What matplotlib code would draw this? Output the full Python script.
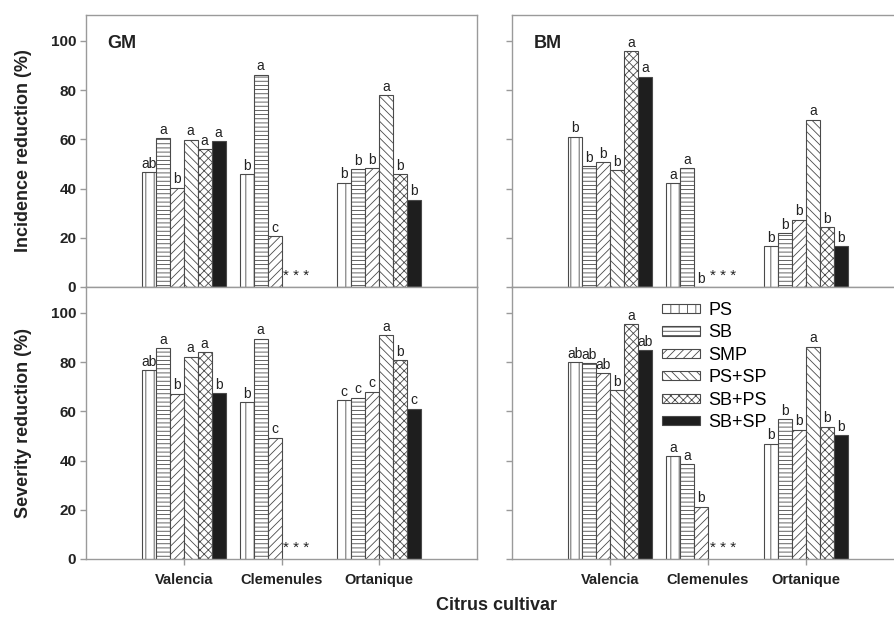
import matplotlib
matplotlib.use('Agg')
import matplotlib.pyplot as plt
from matplotlib.patches import Patch

plt.rcParams['font.family'] = ['Liberation Sans', 'DejaVu Sans']
plt.rcParams['hatch.linewidth'] = 0.6

cultivars = ['Valencia', 'Clemenules', 'Ortanique']
treatments = ['PS', 'SB', 'SMP', 'PS+SP', 'SB+PS', 'SB+SP']
hatches = ['||', '----', '////', '\\\\\\\\', 'xxxx', '']
faces = ['white', 'white', 'white', 'white', 'white', '#1e1e1e']

# one row per cultivar, one value per treatment; missing = not tested (***)
gm_incidence = [[46.6, 60.4, 40.4, 59.8, 56.0, 59.3],
                [45.8, 86.2, 20.7],
                [42.4, 47.8, 48.2, 78.0, 45.8, 35.4]]
gm_incidence_letters = [['ab', 'a', 'b', 'a', 'a', 'a'],
                        ['b', 'a', 'c'],
                        ['b', 'b', 'b', 'a', 'b', 'b']]

bm_incidence = [[61.1, 49.2, 50.7, 47.4, 95.8, 85.5],
                [42.1, 48.2, 0.0],
                [16.7, 21.8, 27.4, 67.9, 24.3, 16.7]]
bm_incidence_letters = [['b', 'b', 'b', 'b', 'a', 'a'],
                        ['a', 'a', 'b'],
                        ['b', 'b', 'b', 'a', 'b', 'b']]

gm_severity = [[76.8, 85.7, 67.1, 82.2, 84.1, 67.3],
               [63.8, 89.5, 49.3],
               [64.4, 65.5, 67.9, 91.0, 80.8, 61.0]]
gm_severity_letters = [['ab', 'a', 'b', 'a', 'a', 'b'],
                       ['b', 'a', 'c'],
                       ['c', 'c', 'c', 'a', 'b', 'c']]

bm_severity = [[80.0, 79.5, 75.4, 68.7, 95.4, 84.9],
               [41.7, 38.5, 21.2],
               [46.8, 56.8, 52.5, 86.2, 53.8, 50.3]]
bm_severity_letters = [['ab', 'ab', 'ab', 'b', 'a', 'ab'],
                       ['a', 'a', 'b'],
                       ['b', 'b', 'b', 'a', 'b', 'b']]

W = 894 / 100
H = 622 / 100
BAR_W = 0.143
SPINE = '#9a9a9a'
EDGE = '#4a4a4a'
TXT = '#222222'


def draw_panel(ax, values, letters, show_xlabels, show_ylabels, name=None):
    for c, (vals, labs) in enumerate(zip(values, letters)):
        x0 = c + 1
        for i, (v, lab) in enumerate(zip(vals, labs)):
            x = x0 + (i - 2.5) * BAR_W
            ax.bar(x, v, width=BAR_W, color=faces[i], hatch=hatches[i],
                   edgecolor=EDGE, linewidth=0.8)
            ax.annotate(lab, (x, v), xytext=(0, 1), textcoords='offset points',
                        ha='center', va='bottom', fontsize=10, color=TXT)
        if len(vals) < len(treatments):
            ax.text(x0 + 1.05 * BAR_W, 1.5, '* * *', ha='center', va='bottom',
                    fontsize=11, color=TXT)

    ax.set_ylim(0, 110.5)
    ax.set_yticks([0, 20, 40, 60, 80, 100])
    ax.set_xticks([1, 2, 3])
    for s in ax.spines.values():
        s.set_color(SPINE)
        s.set_linewidth(1.0)
    ax.tick_params(axis='y', direction='out', length=4, color=SPINE, width=1,
                   labelsize=11, pad=3)
    ax.tick_params(axis='x', direction='out', length=4, color=SPINE, width=1,
                   labelsize=10.5, pad=6)
    for lab in ax.get_yticklabels() + ax.get_xticklabels():
        lab.set_fontweight('bold')
        lab.set_color(TXT)
    if not show_ylabels:
        ax.set_yticklabels([])
    if show_xlabels:
        ax.set_xticklabels(cultivars)
    else:
        ax.tick_params(axis='x', length=0, labelbottom=False)
    if name:
        ax.text(0.22, 99, name, ha='left', va='center', fontsize=13,
                fontweight='bold', color=TXT)


fig = plt.figure(figsize=(W, H), dpi=100)

lx, lw = 86 / 894, 391 / 894
rx, rw = 512 / 894, 382 / 894
ty, by, ph = 1 - 287 / 622, 1 - 559 / 622, 272 / 622

ax_gm_inc = fig.add_axes([lx, ty, lw, ph])
ax_bm_inc = fig.add_axes([rx, ty, rw, ph])
ax_gm_sev = fig.add_axes([lx, by, lw, ph])
ax_bm_sev = fig.add_axes([rx, by, rw, ph])

draw_panel(ax_gm_inc, gm_incidence, gm_incidence_letters, False, True, 'GM')
draw_panel(ax_bm_inc, bm_incidence, bm_incidence_letters, False, False, 'BM')
draw_panel(ax_gm_sev, gm_severity, gm_severity_letters, True, True)
draw_panel(ax_bm_sev, bm_severity, bm_severity_letters, True, False)

for ax in (ax_gm_inc, ax_gm_sev):
    ax.set_xlim(0, 4)
for ax in (ax_bm_inc, ax_bm_sev):
    ax.set_xlim(0, 3.9)
    ax.spines['right'].set_visible(False)

handles = [Patch(facecolor=faces[i], hatch=hatches[i], edgecolor=EDGE,
                 linewidth=0.8, label=t) for i, t in enumerate(treatments)]
fig.legend(handles=handles, loc='upper left', bbox_to_anchor=(653 / 894, 1 - 293 / 622),
           frameon=False, fontsize=13, handlelength=2.1, handleheight=0.4,
           handletextpad=0.45, labelspacing=0.3, borderpad=0)

fig.text(24 / 894, 1 - 151 / 622, 'Incidence reduction (%)', rotation=90,
         ha='center', va='center', fontsize=13, fontweight='bold', color=TXT)
fig.text(24 / 894, 1 - 423 / 622, 'Severity reduction (%)', rotation=90,
         ha='center', va='center', fontsize=13, fontweight='bold', color=TXT)
fig.text(496 / 894, 1 - 606 / 622, 'Citrus cultivar', ha='center', va='center',
         fontsize=13, fontweight='bold', color=TXT)

fig.savefig('out.png', dpi=100)
